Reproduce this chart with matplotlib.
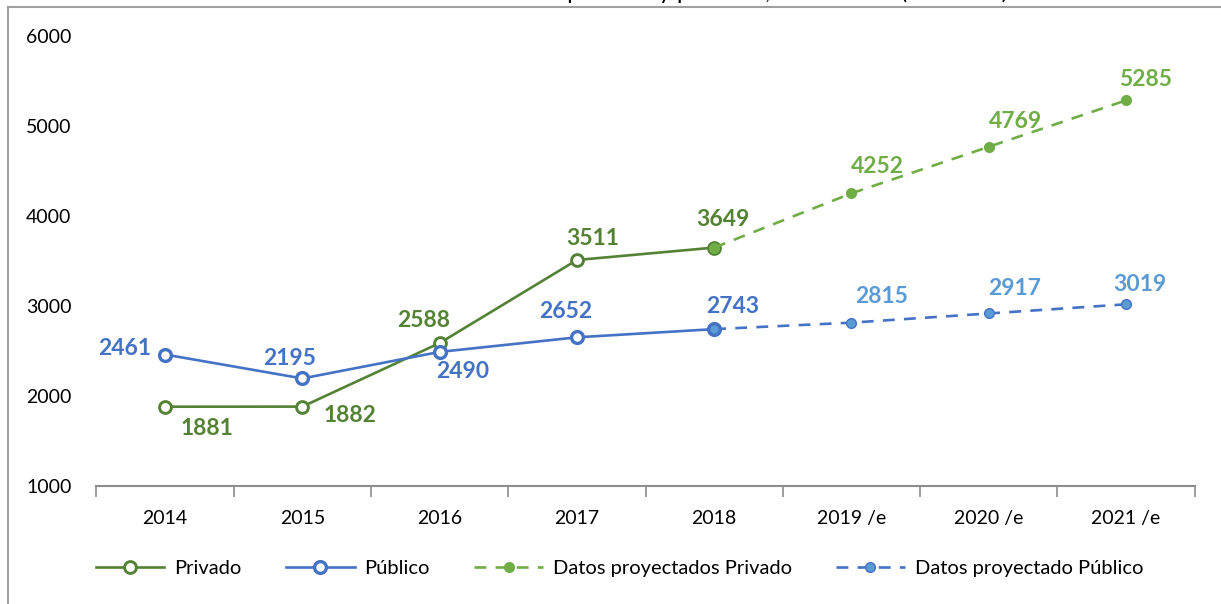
import matplotlib
matplotlib.use("Agg")
import matplotlib.pyplot as plt
from matplotlib.lines import Line2D

plt.rcParams['font.family'] = ['Lato', 'DejaVu Sans']

categories = ['2014', '2015', '2016', '2017', '2018', '2019 /e', '2020 /e', '2021 /e']
privado = [1881, 1882, 2588, 3511, 3649]
publico = [2461, 2195, 2490, 2652, 2743]
proy_privado = [3649, 4252, 4769, 5285]
proy_publico = [2743, 2815, 2917, 3019]
title_text = "Estudiantes matriculados en IES públicos y privados, 2014-2021 (estimado)"

C_PRIV = '#548235'
C_PUB = '#4472C4'
C_PPRIV = '#70AD47'
C_PPUB = '#5B9BD5'

W, H = 1221, 604
fig = plt.figure(figsize=(W / 100, H / 100), dpi=100)
ax = fig.add_axes([96.4 / W, 1 - 486 / H, (1194.7 - 96.4) / W, (486 - 36) / H])

x_real = list(range(len(privado)))
x_proy = list(range(len(privado) - 1, len(categories)))

ax.plot(x_real, privado, color=C_PRIV, lw=1.9, marker='o', ms=8.5, mfc='white',
        mec=C_PRIV, mew=2.1, label='Privado', zorder=3)
ax.plot(x_real, publico, color=C_PUB, lw=1.9, marker='o', ms=8.5, mfc='white',
        mec=C_PUB, mew=2.4, label='Público', zorder=3)
ax.plot(x_proy, proy_privado, color=C_PPRIV, lw=1.9, ls=(0, (4.5, 3.5)), marker='o', ms=7,
        mfc=C_PPRIV, mec=C_PPRIV, mew=1.0, label='Datos proyectados Privado', zorder=4)
ax.plot(x_proy, proy_publico, color=C_PUB, lw=1.9, ls=(0, (4.5, 3.5)), marker='o', ms=7,
        mfc=C_PPUB, mec=C_PUB, mew=1.0, label='Datos proyectado Público', zorder=4)

# label offsets in pixels (dx, dy), y up
off_priv = [(42, -22), (48, -9), (-16, 23), (16, 22), (9, 28)]
off_pub = [(-40, 6), (-13, 20), (23, -20), (-11, 26), (18, 23)]
off_ppriv = [(26, 27), (27, 25), (19, 21)]
off_ppub = [(30, 26), (26, 25), (14, 20)]

def lab(xs, ys, offs, color):
    for xv, yv, (dx, dy) in zip(xs, ys, offs):
        ax.annotate(f"{yv}", (xv, yv), xytext=(dx, dy), textcoords='offset pixels',
                    ha='center', va='center', color=color, fontsize=16.5,
                    fontweight='bold', zorder=6)

lab(x_real, privado, off_priv, C_PRIV)
lab(x_real, publico, off_pub, C_PUB)
lab(x_proy[1:], proy_privado[1:], off_ppriv, C_PPRIV)
lab(x_proy[1:], proy_publico[1:], off_ppub, C_PPUB)

ax.set_xlim(-0.5, len(categories) - 0.5)
ax.set_ylim(1000, 6000)
ax.set_yticks([1000, 2000, 3000, 4000, 5000, 6000])
ax.set_xticks(range(len(categories)))
ax.set_xticklabels(categories)
ax.set_xticks([i - 0.5 for i in range(len(categories) + 1)], minor=True)
ax.tick_params(axis='x', which='major', length=0, pad=17, labelsize=14)
ax.tick_params(axis='x', which='minor', length=8, width=1.2, color='#8C8C8C')
ax.tick_params(axis='y', length=0, pad=18, labelsize=14)
for s in ['top', 'right', 'left']:
    ax.spines[s].set_visible(False)
ax.spines['bottom'].set_color('#8C8C8C')
ax.spines['bottom'].set_linewidth(1.5)

ax.legend(loc='center', bbox_to_anchor=(0.5 + 9 / W, (H - 568) / H), bbox_transform=fig.transFigure,
          ncol=4, frameon=False, fontsize=14.5, handlelength=3.4, handletextpad=0.5,
          columnspacing=2.2, markerscale=1.0)

# outer frame (partially visible)
fig.add_artist(Line2D([8 / W, 8 / W], [0, 1 - 7 / H], transform=fig.transFigure,
                      color='#A0A0A0', lw=1.5))
fig.add_artist(Line2D([8 / W, 1], [1 - 7 / H, 1 - 7 / H], transform=fig.transFigure,
                      color='#A0A0A0', lw=1.5))

# clipped title (only the lowest part of the glyphs shows, as in the reference)
fig.text(620 / W, 1 + 1 / H, title_text, ha='center', va='baseline', fontsize=17, color='black')

fig.savefig('out.png', dpi=100)
